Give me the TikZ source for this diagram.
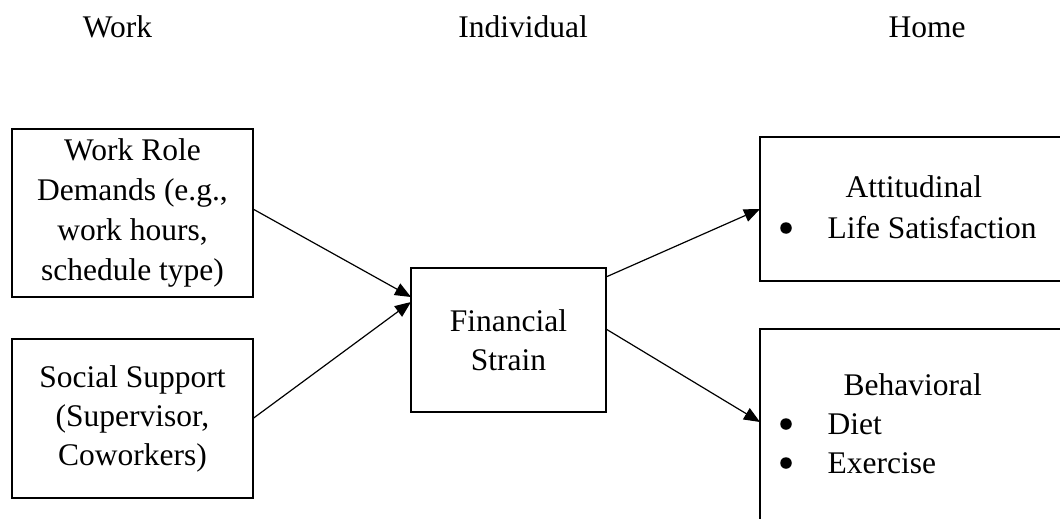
\documentclass[tikz,border=0pt]{standalone}
\usepackage{fontspec}
\setmainfont{Liberation Serif}
\usetikzlibrary{arrows.meta}

\begin{document}
\begin{tikzpicture}[x=1pt,y=-1pt,font=\fontsize{31.5}{39}\selectfont,
        box/.style={draw,line width=2.7pt,outer sep=0pt,inner sep=0pt,align=center},
        bul/.style={circle,fill,inner sep=0pt,minimum size=11.5pt},
        link/.style={line width=1.2pt,-{Triangle[length=16pt,width=13pt]}}]
        \useasboundingbox (0,0) rectangle (1060,519);
        \begin{scope}
            \node (work) at (117.5,27) {Work};
            \node (indiv) at (523,27) {Individual};
            \node (home) at (927,27) {Home};
            \node [box,minimum width=241pt,minimum height=168pt,font=\fontsize{31.5}{40}\selectfont] (wrd) at (132.5,213) {Work Role\\Demands (e.g.,\\work hours,\\schedule type)};
            \node [box,minimum width=241pt,minimum height=159pt] (ss) at (132.5,418.5) {Social Support\\(Supervisor,\\Coworkers)};
            \node [box,minimum width=195pt,minimum height=144pt] (fin) at (508.5,340) {Financial\\Strain};
            \node [box,minimum width=330pt,minimum height=144pt] (att) at (925,209) {};
            \node [box,minimum width=330pt,minimum height=231pt] (beh) at (925,444.5) {};
            \node [anchor=west] (atttitle) at (842,187) {Attitudinal};
            \node [bul] (attbul) at (786,228) {};
            \node [anchor=west] (attlife) at (824,228) {Life Satisfaction};
            \node [anchor=west] (behtitle) at (840,385) {Behavioral};
            \node [bul] (behbul1) at (786,424) {};
            \node [anchor=west] (behdiet) at (824,424) {Diet};
            \node [bul] (behbul2) at (786,463) {};
            \node [anchor=west] (behex) at (824,463) {Exercise};
            \draw [link] ([yshift=4pt]wrd.east) -- ([yshift=43pt]fin.west); % work demands
            \draw [link] (ss.east) -- ([yshift=38pt]fin.west);
            \draw [link] ([yshift=63pt]fin.east) -- (att.west);
            \draw [link] ([yshift=11pt]fin.east) -- ([yshift=-93pt]beh.north west);
        \end{scope}
    \end{tikzpicture}
\end{document}
